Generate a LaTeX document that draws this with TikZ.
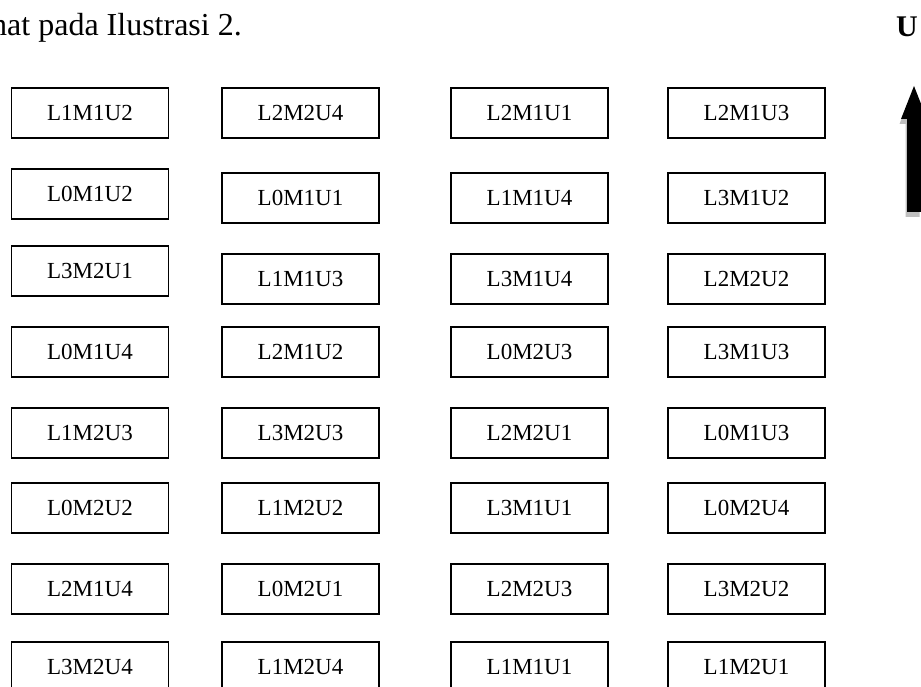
\documentclass[tikz,border=0pt]{standalone}
\usepackage{fontspec}
\setmainfont{Liberation Serif}
\begin{document}
\begin{tikzpicture}[x=1pt,y=-1pt,
  cell/.style={draw=black,line width=1.5pt,minimum width=157pt,minimum height=50pt,inner sep=0pt,
    font=\fontsize{23}{27}\selectfont},
  headtext/.style={inner sep=0pt,font=\fontsize{32}{38}\selectfont}]
\useasboundingbox (0,0) rectangle (921,687);
\clip (0,0) rectangle (921,687);
% heading text
\node[headtext,anchor=base east] (cap) at (242,36) {hat pada Ilustrasi 2.};
\node[headtext,anchor=base west,font=\fontsize{30}{36}\selectfont\bfseries] (ulabel) at (896,37) {U};
% arrow with shadow
\fill[black!25] (912.5,91) -- (925.5,124) -- (919.5,124) -- (919.5,217) -- (905.5,217) -- (905.5,124) -- (899.5,124) -- cycle;
\fill[black] (914,86) -- (927,119) -- (921,119) -- (921,212) -- (907,212) -- (907,119) -- (901,119) -- cycle;
% column 1
\node[cell] (a1) at (90,113) {L1M1U2};
\node[cell] (a2) at (90,194) {L0M1U2};
\node[cell] (a3) at (90,271) {L3M2U1};
\node[cell] (a4) at (90,352) {L0M1U4};
\node[cell] (a5) at (90,433) {L1M2U3};
\node[cell] (a6) at (90,508) {L0M2U2};
\node[cell] (a7) at (90,589) {L2M1U4};
\node[cell] (a8) at (90,667) {L3M2U4};
% column 2
\node[cell] (b1) at (300.5,113) {L2M2U4};
\node[cell] (b2) at (300.5,198) {L0M1U1};
\node[cell] (b3) at (300.5,279) {L1M1U3};
\node[cell] (b4) at (300.5,352) {L2M1U2};
\node[cell] (b5) at (300.5,433) {L3M2U3};
\node[cell] (b6) at (300.5,508) {L1M2U2};
\node[cell] (b7) at (300.5,589) {L0M2U1};
\node[cell] (b8) at (300.5,667) {L1M2U4};
% column 3
\node[cell] (c1) at (529.5,113) {L2M1U1};
\node[cell] (c2) at (529.5,198) {L1M1U4};
\node[cell] (c3) at (529.5,279) {L3M1U4};
\node[cell] (c4) at (529.5,352) {L0M2U3};
\node[cell] (c5) at (529.5,433) {L2M2U1};
\node[cell] (c6) at (529.5,508) {L3M1U1};
\node[cell] (c7) at (529.5,589) {L2M2U3};
\node[cell] (c8) at (529.5,667) {L1M1U1};
% column 4
\node[cell] (d1) at (746.5,113) {L2M1U3};
\node[cell] (d2) at (746.5,198) {L3M1U2};
\node[cell] (d3) at (746.5,279) {L2M2U2};
\node[cell] (d4) at (746.5,352) {L3M1U3};
\node[cell] (d5) at (746.5,433) {L0M1U3};
\node[cell] (d6) at (746.5,508) {L0M2U4};
\node[cell] (d7) at (746.5,589) {L3M2U2};
\node[cell] (d8) at (746.5,667) {L1M2U1};
\end{tikzpicture}
\end{document}
